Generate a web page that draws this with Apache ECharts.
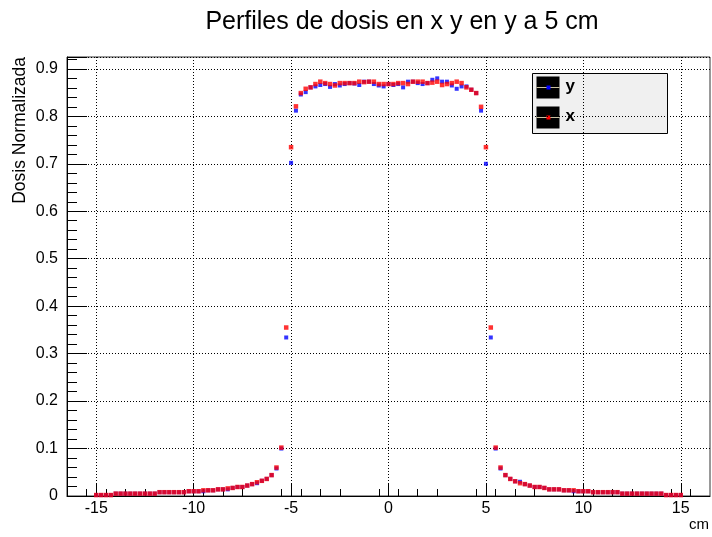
<!DOCTYPE html>
<html>
<head>
<meta charset="utf-8">
<script src="https://cdn.jsdelivr.net/npm/echarts@6/dist/echarts.min.js"></script>
<style>
  html, body { margin: 0; padding: 0; background: #fff; }
  #chart { width: 712px; height: 537px; }
</style>
</head>
<body>
<div id="chart"></div>
<script>
// Positions (cm) of the profile samples
const positions = [
  -15, -14.75, -14.5, -14.25, -14, -13.75, -13.5, -13.25, -13, -12.75,
  -12.5, -12.25, -12, -11.75, -11.5, -11.25, -11, -10.75, -10.5, -10.25,
  -10, -9.75, -9.5, -9.25, -9, -8.75, -8.5, -8.25, -8, -7.75,
  -7.5, -7.25, -7, -6.75, -6.5, -6.25, -6, -5.75, -5.5, -5.25,
  -5,
  -4.75, -4.5, -4.25, -4, -3.75, -3.5, -3.25, -3, -2.75, -2.5,
  -2.25, -2, -1.75, -1.5, -1.25, -1, -0.75, -0.5, -0.25, 0,
  0.25, 0.5, 0.75, 1, 1.25, 1.5, 1.75, 2, 2.25, 2.5,
  2.75, 3, 3.25, 3.5, 3.75, 4, 4.25, 4.5, 4.75,
  5,
  5.25, 5.5, 5.75, 6, 6.25, 6.5, 6.75, 7, 7.25, 7.5,
  7.75, 8, 8.25, 8.5, 8.75, 9, 9.25, 9.5, 9.75, 10,
  10.25, 10.5, 10.75, 11, 11.25, 11.5, 11.75, 12, 12.25, 12.5,
  12.75, 13, 13.25, 13.5, 13.75, 14, 14.25, 14.5, 14.75, 15
];

// Normalised dose along y
const doseY = [
  0.002, 0.002, 0.002, 0.002, 0.005, 0.005, 0.005, 0.005, 0.005, 0.005,
  0.005, 0.005, 0.005, 0.008, 0.008, 0.008, 0.008, 0.008, 0.008, 0.010,
  0.010, 0.010, 0.010, 0.012, 0.012, 0.014, 0.014, 0.014, 0.017, 0.019,
  0.019, 0.022, 0.025, 0.027, 0.032, 0.036, 0.044, 0.058, 0.100, 0.334,
  0.702,
  0.812, 0.846, 0.851, 0.861, 0.863, 0.866, 0.868, 0.862, 0.868, 0.865,
  0.868, 0.870, 0.869, 0.866, 0.873, 0.873, 0.868, 0.865, 0.863, 0.868,
  0.866, 0.868, 0.861, 0.873, 0.873, 0.870, 0.868, 0.870, 0.877, 0.880,
  0.873, 0.873, 0.865, 0.858, 0.863, 0.863, 0.856, 0.849, 0.812,
  0.700,
  0.334, 0.100, 0.058, 0.044, 0.036, 0.031, 0.030, 0.025, 0.022, 0.019,
  0.019, 0.017, 0.014, 0.014, 0.014, 0.012, 0.012, 0.010, 0.010, 0.010,
  0.010, 0.008, 0.008, 0.008, 0.008, 0.008, 0.008, 0.005, 0.005, 0.005,
  0.005, 0.005, 0.005, 0.005, 0.005, 0.005, 0.002, 0.002, 0.002, 0.002
];

// Normalised dose along x
const doseX = [
  0.002, 0.002, 0.002, 0.002, 0.005, 0.005, 0.005, 0.005, 0.005, 0.005,
  0.005, 0.005, 0.005, 0.008, 0.008, 0.008, 0.008, 0.008, 0.008, 0.010,
  0.010, 0.010, 0.012, 0.012, 0.012, 0.014, 0.014, 0.016, 0.017, 0.019,
  0.019, 0.022, 0.025, 0.029, 0.032, 0.036, 0.044, 0.060, 0.102, 0.355,
  0.735,
  0.821, 0.849, 0.858, 0.861, 0.868, 0.873, 0.870, 0.868, 0.865, 0.870,
  0.870, 0.870, 0.870, 0.873, 0.872, 0.873, 0.873, 0.868, 0.868, 0.868,
  0.868, 0.870, 0.870, 0.868, 0.873, 0.873, 0.873, 0.870, 0.871, 0.873,
  0.866, 0.868, 0.870, 0.873, 0.870, 0.861, 0.856, 0.849, 0.820,
  0.735,
  0.355, 0.102, 0.060, 0.044, 0.036, 0.031, 0.027, 0.025, 0.022, 0.019,
  0.019, 0.017, 0.014, 0.014, 0.014, 0.012, 0.012, 0.012, 0.010, 0.010,
  0.010, 0.008, 0.008, 0.008, 0.008, 0.008, 0.008, 0.005, 0.005, 0.005,
  0.005, 0.005, 0.005, 0.005, 0.005, 0.005, 0.002, 0.002, 0.002, 0.002
];

const seriesNames = ['y', 'x'];
const seriesColors = ['#0000ff', '#ff0000'];
const markerSizes = [4, 4.5];
const xTicks = [-15, -10, -5, 0, 5, 10, 15];

const pairs = (vals) => positions.map((p, i) => [p, vals[i]]);

const FONT = '"Liberation Sans", Arial, Helvetica, sans-serif';
const chart = echarts.init(document.getElementById('chart'), null, { renderer: 'canvas' });

const gridDots = { show: true, lineStyle: { color: '#000', width: 1, type: [1, 2] } };

chart.setOption({
  backgroundColor: '#fff',
  animation: false,
  title: {
    text: 'Perfiles de dosis en x y en y a 5 cm',
    left: 397, top: 5, textAlign: 'center',
    textStyle: { fontFamily: FONT, fontSize: 25, fontWeight: 'normal', color: '#000' }
  },
  grid: {
    left: 67, right: -1, top: 57, bottom: 41,
    show: true, borderColor: '#333', borderWidth: 1, backgroundColor: '#fff'
  },
  xAxis: {
    type: 'value', min: -16.5, max: 16.5, interval: 5,
    axisLine: { show: true, onZero: false, lineStyle: { color: '#000', width: 1 } },
    axisTick: { show: true, inside: true, length: 13, lineStyle: { color: '#000' },
      customValues: xTicks },
    minorTick: { show: true, splitNumber: 5, length: 7, lineStyle: { color: '#000' } },
    axisLabel: { margin: 5, fontFamily: FONT, fontSize: 16, color: '#000',
      customValues: xTicks },
    splitLine: gridDots,
    name: 'cm', nameLocation: 'end', nameGap: 0,
    nameTextStyle: { fontFamily: FONT, fontSize: 15, color: '#000',
      align: 'right', verticalAlign: 'top', padding: [21, 1, 0, 0] }
  },
  yAxis: {
    type: 'value', min: 0, max: 0.925, interval: 0.1,
    axisLine: { show: true, onZero: false, lineStyle: { color: '#000', width: 1 } },
    axisTick: { show: true, inside: true, length: 20, lineStyle: { color: '#000' } },
    minorTick: { show: true, splitNumber: 5, length: 10, lineStyle: { color: '#000' } },
    axisLabel: { margin: 9, fontFamily: FONT, fontSize: 16, color: '#000',
      showMaxLabel: false, formatter: (v) => (Math.round(v * 10) / 10).toString() },
    splitLine: gridDots
  },
  series: seriesNames.map((name, k) => ({
    name: name,
    type: 'scatter',
    symbol: 'rect',
    symbolSize: markerSizes[k],
    itemStyle: { color: seriesColors[k] },
    data: pairs(k === 0 ? doseY : doseX),
    z: 2 + k
  })),
  graphic: [
    {
      type: 'text', x: 20, y: 57, rotation: Math.PI / 2,
      style: { text: 'Dosis Normalizada', fontFamily: FONT, fontSize: 17.5, fill: '#000',
        align: 'right', verticalAlign: 'middle' }
    },
    {
      type: 'group', left: 532, top: 73,
      children: [
        { type: 'rect', shape: { x: 0, y: 0, width: 135, height: 60 },
          style: { fill: '#f0f0f0', stroke: '#000', lineWidth: 1 } },
        ...seriesNames.flatMap((name, k) => {
          const cy = 14 + k * 30;
          return [
            { type: 'rect', shape: { x: 4, y: cy - 11, width: 23, height: 22 },
              style: { fill: '#000' } },
            { type: 'line', shape: { x1: 4, y1: cy, x2: 27, y2: cy },
              style: { stroke: '#c8c0a0', lineWidth: 1 } },
            { type: 'rect', shape: { x: 14, y: cy - 2, width: 4, height: 4 },
              style: { fill: seriesColors[k] } },
            { type: 'text', x: 33, y: cy - 1,
              style: { text: name, fontFamily: FONT, fontSize: 17, fontWeight: 'bold',
                fill: '#000', verticalAlign: 'middle' } }
          ];
        })
      ]
    }
  ]
});
</script>
</body>
</html>
